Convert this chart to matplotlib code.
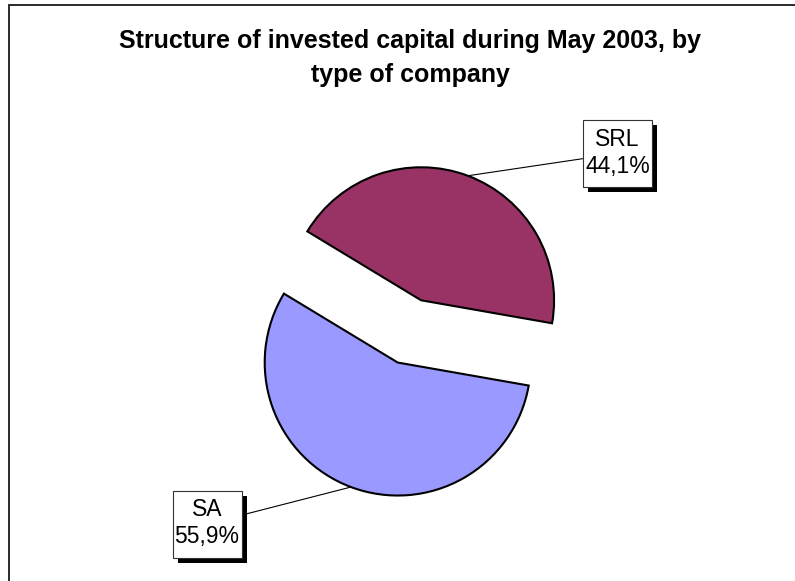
import matplotlib
matplotlib.use("Agg")
import matplotlib.pyplot as plt
import matplotlib.patheffects as pe
from matplotlib.patches import Rectangle
import numpy as np

plt.rcParams['font.family'] = ['Liberation Sans', 'DejaVu Sans']

### Data
labels = ['SA', 'SRL']
shares = [55.9, 44.1]
colors = ['#9999FF', '#993366']
title_lines = ['Structure of invested capital during May 2003, by', 'type of company']

### Layout (pixels, origin top-left)
W, H = 795, 581
cx, cy, r = 409.4, 331.4, 133.0   # pie centre and radius
box_w, box_h = 69, 67
box_tl = [(172.5, 490.5), (583, 120)]  # top-left corner of each label box


def px(x, y):
    # pixel (top-left origin) -> data units of the pie axes
    return (x - cx) / r, (cy - y) / r


fig = plt.figure(figsize=(W / 100, H / 100), dpi=100)
ax = fig.add_axes([0, 0, 1, 1])

wedges, _ = ax.pie(shares, colors=colors, startangle=148.8, counterclock=True,
                   explode=[0.25, 0.25], radius=1,
                   wedgeprops=dict(edgecolor='black', linewidth=1.5))
ax.set_aspect('auto')
ax.set_xlim(-cx / r, (W - cx) / r)
ax.set_ylim((cy - H) / r, cy / r)
ax.axis('off')

# Labels in shadowed boxes, with leader lines to the middle of each arc
for w, lab, v, (bx, by) in zip(wedges, labels, shares, box_tl):
    x0, y0 = px(bx, by + box_h)
    rect = Rectangle((x0, y0), box_w / r, box_h / r, fc='white', ec='#333333',
                     lw=0.8, zorder=5)
    rect.set_path_effects([
        pe.SimplePatchShadow(offset=(3.6, -3.6), shadow_rgbFace='black', alpha=1),
        pe.Normal()])
    ax.add_patch(rect)

    mid = np.deg2rad((w.theta1 + w.theta2) / 2)
    xc, yc = w.center
    anchor = (xc + w.r * np.cos(mid), yc + w.r * np.sin(mid))
    ax.annotate('', xy=anchor, xytext=px(bx + box_w / 2, by + box_h / 2),
                arrowprops=dict(arrowstyle='-', color='black', lw=0.8,
                                patchA=rect, shrinkA=0, shrinkB=0), zorder=4)

    val = f"{v:.1f}%".replace('.', ',')
    ax.text(*px(bx + box_w / 2, by + 26), lab, ha='center', va='baseline',
            fontsize=16.5, zorder=6)
    ax.text(*px(bx + box_w / 2, by + 53), val, ha='center', va='baseline',
            fontsize=16.5, zorder=6)

# Title
fig.text(410 / W, 1 - 48 / H, title_lines[0], ha='center', va='baseline',
         fontsize=18, fontweight='bold')
fig.text(410 / W, 1 - 82 / H, title_lines[1], ha='center', va='baseline',
         fontsize=18, fontweight='bold')

# Chart frame (only left and top edges fall inside the picture)
fig.add_artist(Rectangle((9 / W, -0.1), 1.2, 1.1 - 5 / H, transform=fig.transFigure,
                         fill=False, ec='#1a1a1a', lw=1.3))

plt.savefig('out.png', dpi=100)
